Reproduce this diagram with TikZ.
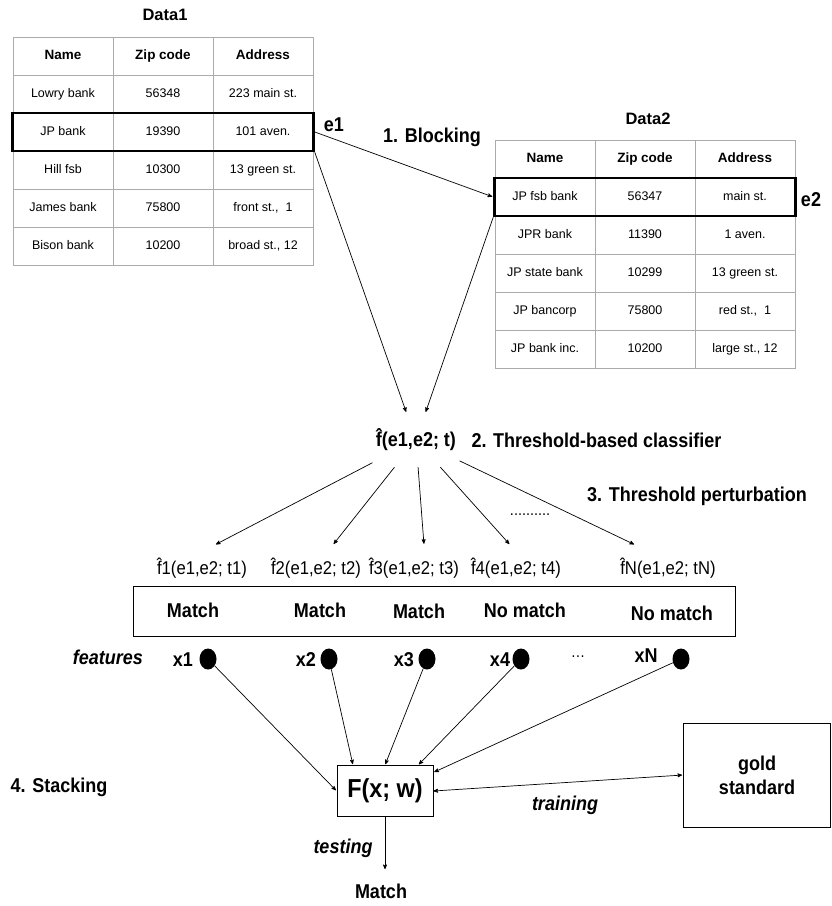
\documentclass[tikz,border=0pt]{standalone}
\usepackage{fontspec}
\setmainfont{Liberation Sans}
\newfontfamily\narrowfont[FakeStretch=0.9]{Liberation Sans}
\usetikzlibrary{arrows,shapes.geometric}
\definecolor{gridgray}{HTML}{ABABAB}
\newcommand{\fhat}{\accent"02C6 f}

\begin{document}
\begin{tikzpicture}[x=1pt, y=-1pt, >=stealth', shorten >=1pt,
	tabcell/.style={draw=gridgray, line width=0.8pt, minimum width=100pt, minimum height=38pt, inner sep=0pt, text height=9pt, text depth=2.5pt, font=\fontsize{12.5}{14}\selectfont},
	tabhead/.style={tabcell, text height=10pt, text depth=3pt, font=\bfseries\fontsize{13.5}{15}\selectfont},
	tabtitle/.style={font=\bfseries\fontsize{16.5}{18}\selectfont},
	recbox/.style={draw, line width=2.6pt, minimum width=301pt, minimum height=38pt, inner sep=0pt},
	stagelabel/.style={font=\narrowfont\bfseries\fontsize{20}{24}\selectfont},
	itallabel/.style={font=\narrowfont\bfseries\itshape\fontsize{20}{24}\selectfont},
	clflabel/.style={font=\narrowfont\fontsize{18.5}{22}\selectfont, minimum height=46pt},
	featdot/.style={ellipse, fill, minimum width=17pt, minimum height=21pt, inner sep=0pt},
	plainbox/.style={draw, line width=0.8pt, inner sep=0pt}]
				\useasboundingbox (0,0) rectangle (831,906);

				% the two data sources
				\node[tabtitle] (Dataone) at (165,15) {Data1};
				\node[tabtitle] (Datatwo) at (648,119) {Data2};
				\foreach \hd [count=\c] in {Name, Zip code, Address} {
					\node[tabhead] (A0\c) at ({-37+100*\c},56) {\hd};
					\node[tabhead] (B0\c) at ({445+100*\c},159) {\hd};
				}
				\foreach \nm/\zp/\ad [count=\r] in {Lowry bank/56348/223 main st., JP bank/19390/101 aven., Hill fsb/10300/13 green st., James bank/75800/{front st.,\ \ 1}, Bison bank/10200/{broad st., 12}} {
					\node[tabcell] (A\r1) at (63,{56+38*\r}) {\nm};
					\node[tabcell] (A\r2) at (163,{56+38*\r}) {\zp};
					\node[tabcell] (A\r3) at (263,{56+38*\r}) {\ad};
				}
				\foreach \nm/\zp/\ad [count=\r] in {JP fsb bank/56347/main st., JPR bank/11390/1 aven., JP state bank/10299/13 green st., JP bancorp/75800/{red st.,\ \ 1}, JP bank inc./10200/{large st., 12}} {
					\node[tabcell] (B\r1) at (545,{159+38*\r}) {\nm};
					\node[tabcell] (B\r2) at (645,{159+38*\r}) {\zp};
					\node[tabcell] (B\r3) at (745,{159+38*\r}) {\ad};
				}
				\node[recbox] (Eone) at (163,132) {};
				\node[recbox] (Etwo) at (645,197) {};
				\node[stagelabel] (Eonelabel) at (334,125) {e1};
				\node[stagelabel] (Etwolabel) at (811,200) {e2};
				\node[stagelabel] (Blocking) at (432,137) {1. Blocking};

				% classifier and its perturbed copies
				\node[stagelabel, minimum height=54pt] (Fhat) at (416,440) {\fhat(e1,e2; t)};
				\node[stagelabel, anchor=west] (Classifier) at (468,440) {2. Threshold-based classifier};
				\node[stagelabel] (Perturb) at (697,496) {3. Threshold perturbation};
				\node[font=\narrowfont\fontsize{16}{18}\selectfont] (Dots) at (530,515) {..........};
				\node[clflabel] (Fone) at (202,568) {\fhat1(e1,e2; t1)};
				\node[clflabel] (Ftwo) at (316,568) {\fhat2(e1,e2; t2)};
				\node[clflabel] (Fthree) at (414,568) {\fhat3(e1,e2; t3)};
				\node[clflabel] (Ffour) at (516,568) {\fhat4(e1,e2; t4)};
				\node[clflabel] (FN) at (668,568) {\fhat N(e1,e2; tN)};

				\node[plainbox, minimum width=602pt, minimum height=50pt] (Votes) at (434,611) {};
				\node[stagelabel] (Mone) at (193,610) {Match};
				\node[stagelabel] (Mtwo) at (320,610) {Match};
				\node[stagelabel] (Mthree) at (419,611) {Match};
				\node[stagelabel] (Mfour) at (525,610) {No match};
				\node[stagelabel] (Mfive) at (672,613) {No match};

				% stacking
				\node[itallabel] (Features) at (108,657) {features};
				\node[featdot] (Xone) at (208,659) {};
				\node[featdot] (Xtwo) at (329,659) {};
				\node[featdot] (Xthree) at (427,659) {};
				\node[featdot] (Xfour) at (521,659) {};
				\node[featdot] (XN) at (681,659) {};
				\node[stagelabel] (Xonelabel) at (183,660) {x1};
				\node[stagelabel] (Xtwolabel) at (306,660) {x2};
				\node[stagelabel] (Xthreelabel) at (404,660) {x3};
				\node[stagelabel] (Xfourlabel) at (500,660) {x4};
				\node[stagelabel] (XNlabel) at (646,656) {xN};
				\node[font=\narrowfont\fontsize{16}{18}\selectfont] (Xdots) at (578,657) {\dots};

				\node[plainbox, minimum width=96pt, minimum height=51pt, font=\narrowfont\bfseries\fontsize{26}{30}\selectfont] (Model) at (385,791) {F(x; w)};
				\node[plainbox, minimum width=147pt, minimum height=104pt, align=center, stagelabel] (Gold) at (757,775) {gold\\standard};
				\node[stagelabel] (Stacking) at (59,787) {4. Stacking};
				\node[itallabel] (Training) at (565,805) {training};
				\node[itallabel] (Testing) at (343,848) {testing};
				\node[stagelabel] (Result) at (381,891) {Match};

				\path[->, line width=0.7pt] (Eone.east)	edge 	(Etwo.west)
						  (Eone.south east)	edge 	(Fhat)
						  (Etwo.south west)	edge 	(Fhat)
						  (Fhat)	edge 	([xshift=13pt]Fone.north)
						  (Fhat)	edge 	([xshift=17pt]Ftwo.north)
						  (Fhat)	edge 	([xshift=10pt]Fthree.north)
						  (Fhat)	edge 	([xshift=-6pt]Ffour.north)
						  (Fhat)	edge 	([xshift=-33pt]FN.north)
						  (Xone)	edge 	(Model.west)
						  (Xtwo)	edge 	(Model.141)
						  (Xthree)	edge 	(Model.north)
						  (Xfour)	edge 	(Model.38)
						  (XN)	edge 	(Model.21)
						  (Model.south)	edge[shorten >=11pt] 	(Model.south |- Result.north)
						  (Model.east)	edge[<->] 	(Gold.west);
			\end{tikzpicture}
\end{document}
